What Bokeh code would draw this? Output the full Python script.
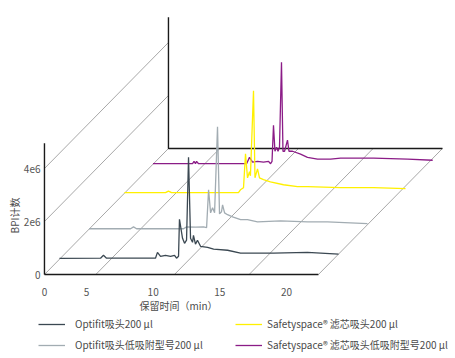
import math
from bokeh.plotting import figure
from bokeh.models import Range1d, Legend, LegendItem
from bokeh.core.properties import value
from bokeh.embed import file_html
from bokeh.resources import INLINE

# ---- data: retention time (min) and BPI counts ----
t_dark = [1.85, 4.93, 5.15, 5.38, 9.05, 9.2, 9.43, 9.8, 10.18, 10.48, 10.63, 10.78, 10.85, 11.08, 11.23,
          11.38, 11.53, 11.68, 11.83, 11.9, 12.05, 12.2, 12.43, 12.96, 13.41, 14.46, 15.43, 17.9, 20.45, 22.78]
bpi_dark = [0.03e6, 0.04e6, 0.15e6, 0.04e6, 0.04e6, 0.26e6, 0.11e6, 0.15e6, 0.11e6, 0.15e6, 0.04e6, 0.11e6,
            1.51e6, 0.79e6, 0.60e6, 0.72e6, 3.85e6, 0.79e6, 0.64e6, 0.90e6, 0.57e6, 0.72e6, 0.49e6, 0.45e6,
            0.38e6, 0.34e6, 0.23e6, 0.23e6, 0.26e6, 0.19e6]

t_gray = [1.85, 4.97, 5.19, 5.42, 8.94, 9.17, 9.84, 10.44, 10.67, 10.82, 10.97, 11.12, 11.27, 11.49, 11.64,
          11.79, 11.87, 12.02, 12.24, 12.62, 13.22, 13.74, 14.49, 16.22, 18.24, 19.74, 22.74]
bpi_gray = [0.02e6, 0.02e6, 0.09e6, 0.02e6, 0.02e6, 0.09e6, 0.08e6, 0.09e6, 0.06e6, 1.49e6, 0.62e6, 0.81e6,
            0.62e6, 3.87e6, 0.58e6, 0.66e6, 0.92e6, 0.62e6, 0.55e6, 0.47e6, 0.36e6, 0.36e6, 0.28e6, 0.32e6,
            0.28e6, 0.28e6, 0.21e6]

t_yellow = [1.85, 4.93, 5.15, 5.38, 10.4, 10.55, 10.78, 10.93, 11.08, 11.23, 11.3, 11.53, 11.64, 11.83,
            11.98, 12.28, 12.8, 13.78, 14.83, 15.58, 18.05, 20.53, 22.93]
bpi_yellow = [0.02e6, 0.02e6, 0.08e6, 0.02e6, 0.02e6, 0.13e6, 0.21e6, 1.49e6, 0.58e6, 0.81e6, 0.66e6, 3.87e6,
              0.58e6, 0.92e6, 0.58e6, 0.51e6, 0.43e6, 0.32e6, 0.25e6, 0.25e6, 0.21e6, 0.21e6, 0.17e6]

t_purple = [1.85, 4.82, 4.93, 5.04, 5.12, 5.27, 8.87, 9.09, 9.32, 9.69, 10.14, 10.52, 10.67, 10.78, 10.89,
            11.0, 11.12, 11.23, 11.34, 11.49, 11.6, 11.72, 11.94, 12.05, 12.32, 12.92, 13.44, 14.19, 15.17,
            15.92, 18.4, 20.95, 22.83]
bpi_purple = [0.02e6, 0.02e6, 0.11e6, 0.02e6, 0.11e6, 0.02e6, 0.02e6, 0.26e6, 0.08e6, 0.11e6, 0.08e6, 0.11e6,
              0.02e6, 0.11e6, 1.47e6, 0.49e6, 0.64e6, 0.49e6, 0.64e6, 3.85e6, 0.49e6, 0.49e6, 0.91e6, 0.49e6,
              0.49e6, 0.38e6, 0.26e6, 0.19e6, 0.19e6, 0.23e6, 0.23e6, 0.19e6, 0.15e6]

series_names = ["Optifit吸头200 µl", "Optifit吸头低吸附型号200 µl",
                "Safetyspace® 滤芯吸头200 µl", "Safetyspace® 滤芯吸头低吸附型号200 µl"]

x_tick_values = [1.85, 5, 10, 15, 20]
x_tick_labels = ["0", "5", "10", "15", "20"]
y_tick_values = [0, 2e6, 4e6]
y_tick_labels = ["0", "2e6", "4e6"]
x_title = "保留时间（min）"
y_title = "BPI计数"

# ---- layout / style (pseudo-3D waterfall) ----
colors = ["#3b4852", "#a2acb2", "#fff000", "#8b1c87"]
depth = [0.121, 0.359, 0.645, 0.875]          # fraction of the full depth
X0, X1 = 1.85, 22.4                           # front axis extent (min)
YTOP = 4.95e6                                 # axis height (counts)
BX, BY = 9.30, 4.755e6                        # full depth offset in data units
grid_t = [1.85, 5.7, 11.6, 17.2, 22.4]
grid_c = [2e6, 4e6]

W, H = 450, 356
OX, OY = 19.3, 274          # canvas position of (t=0, count=0)
PXX = 13.333                # px per minute
PXY = 26.5e-6               # px per count
FONT = "Noto Sans CJK SC"
TXT = "#4a4a4a"

p = figure(width=W, height=H, output_backend="svg", toolbar_location=None,
           x_axis_location=None, y_axis_location=None,
           x_range=Range1d(-OX / PXX, (W - OX) / PXX),
           y_range=Range1d((OY - H) / PXY, OY / PXY))
p.min_border = 0
p.outline_line_color = None
p.xgrid.visible = False
p.ygrid.visible = False
p.background_fill_color = "white"

# diagonal depth lines
gx0, gy0, gx1, gy1 = [], [], [], []
for g in grid_t:
    gx0.append(g); gy0.append(0); gx1.append(g + BX); gy1.append(BY)
for c in grid_c:
    gx0.append(X0); gy0.append(c); gx1.append(X0 + BX); gy1.append(c + BY)
p.segment(gx0, gy0, gx1, gy1, line_color="#a8a8a8", line_width=1)

# back plane axes
p.line([X0 + BX, X0 + BX, X1 + BX], [YTOP + BY, BY, BY], line_color="#1a1a1a", line_width=1.4)

# series (back to front)
series = [(t_dark, bpi_dark), (t_gray, bpi_gray), (t_yellow, bpi_yellow), (t_purple, bpi_purple)]
renderers = [None] * 4
for i in [3, 2, 1, 0]:
    ts, cs = series[i]
    xs = [t + depth[i] * BX for t in ts]
    ys = [c + depth[i] * BY for c in cs]
    renderers[i] = p.line(xs, ys, line_color=colors[i], line_width=1.3)

# front axes
p.line([X0, X1], [0, 0], line_color="#1a1a1a", line_width=1.4)
p.line([X0, X0], [0, YTOP], line_color="#1a1a1a", line_width=1.4)

# tick labels
p.text(x=x_tick_values, y=[-17 / PXY] * len(x_tick_values), text=x_tick_labels,
       text_align="center", text_baseline="middle", text_font=value(FONT),
       text_font_size="10px", text_color="#555555")
p.text(x=[(40 - OX) / PXX] * len(y_tick_values), y=y_tick_values, text=y_tick_labels,
       text_align="right", text_baseline="middle", text_font=value(FONT),
       text_font_size="10px", text_color="#555555")

# axis titles
p.text(x=[(178 - OX) / PXX], y=[(OY - 305) / PXY], text=[x_title], text_align="center",
       text_baseline="middle", text_font=value(FONT), text_font_size="10px", text_color=TXT)
p.text(x=[(14 - OX) / PXX], y=[(OY - 215) / PXY], text=[y_title], angle=math.pi / 2,
       text_align="center", text_baseline="middle", text_font=value(FONT),
       text_font_size="10px", text_color=TXT)

# legends (two columns)
def make_legend(idx, vx, standoff):
    lg = Legend(items=[LegendItem(label=series_names[i], renderers=[renderers[i]]) for i in idx],
                location=(vx, 4), orientation="vertical",
                label_text_font=FONT, label_text_font_size="10px", label_text_color=TXT,
                border_line_color=None, background_fill_alpha=0, padding=0, margin=0,
                spacing=6, glyph_width=27, glyph_height=14, label_height=14,
                label_standoff=standoff)
    p.add_layout(lg, "center")

make_legend([0, 1], 38, 10)
make_legend([2, 3], 235, 5)

open("out.html", "w").write(file_html(p, INLINE))
